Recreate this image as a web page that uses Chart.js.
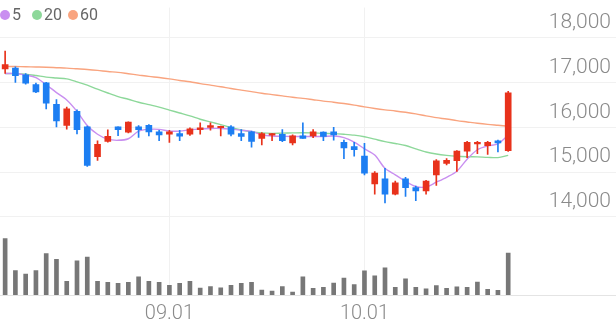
<!DOCTYPE html>
<html>
<head>
  <meta charset="UTF-8">
  <style>
    body { margin: 0; background: #fff; }
    #wrap { position: relative; width: 616px; height: 321px; }
    #legend { position: absolute; top: 0; left: 0; font-family: Roboto, sans-serif; font-size: 16px; color: #666; }
    #legend span.item { position: absolute; top: 5px; white-space: nowrap; line-height: 19px; }
    #legend i { display: inline-block; width: 10px; height: 10px; border-radius: 50%; margin-right: 2px; vertical-align: 0px; }
  </style>
</head>
<body>
  <div id="wrap">
    <canvas id="stock_chart"></canvas>
    <div id="legend"></div>
  </div>

  <script src="https://cdn.jsdelivr.net/npm/chart.js"></script>
  <script>

    // trading days (2023)
    const dates = [
      '08.09','08.10','08.11','08.14','08.16','08.17','08.18','08.21','08.22','08.23',
      '08.24','08.25','08.28','08.29','08.30','08.31','09.01','09.04','09.05','09.06',
      '09.07','09.08','09.11','09.12','09.13','09.14','09.15','09.18','09.19','09.20',
      '09.21','09.22','09.25','09.26','09.27','10.04','10.05','10.06','10.10','10.11',
      '10.12','10.13','10.16','10.17','10.18','10.19','10.20','10.23','10.24','10.25'
    ]

    const openP  = [17300,17320,17170,16955,16990,16515,16045,16355,16010,15345,
                    15685,16010,15890,16010,16045,15900,15845,15860,15845,15950,
                    16000,15990,16010,15860,15900,15750,15825,15845,15650,15810,
                    15810,15895,15900,15665,15570,15360,14740,14850,14510,14850,
                    14655,14580,14940,15195,15255,15470,15630,15590,15700,15480]
    const highP  = [17700,17350,17200,16985,17005,16620,16450,16390,16030,15700,
                    15945,16010,16125,16040,16060,15930,15930,15930,15990,16100,
                    16100,16025,16040,15950,15915,15880,15860,15950,15830,16100,
                    15950,15900,16000,15715,15665,15640,15015,15085,14800,14885,
                    14690,14820,15280,15300,15480,15685,15685,15685,15715,16800]
    const lowP   = [17200,17000,16960,16770,16410,16010,15960,15850,15130,15260,
                    15670,15815,15875,15775,15810,15700,15665,15700,15820,15845,
                    15935,15810,15810,15700,15555,15610,15700,15680,15610,15750,
                    15770,15700,15715,15300,15355,14940,14510,14315,14490,14460,
                    14365,14510,14705,15160,15015,15325,15410,15395,15450,15460]
    const closeP = [17400,17150,16985,16790,16540,16140,16415,15945,15150,15620,
                    15800,15945,16115,15950,15895,15830,15900,15800,15965,15990,
                    16040,16010,15845,15795,15685,15860,15845,15700,15810,15750,
                    15900,15795,15830,15540,15500,14980,14980,14510,14760,14655,
                    14580,14800,15255,15265,15470,15665,15665,15665,15650,16770]

    const ma5  = [17200,17200,17165,17110,16950,16775,16610,16355,16040,15845,
                  15735,15710,15745,15915,15955,15955,15915,15915,15945,15965,
                  15975,15975,15960,15935,15910,15835,15805,15800,15795,15795,
                  15795,15795,15805,15770,15670,15520,15380,15085,14940,14795,
                  14680,14670,14775,14885,15020,15290,15500,15585,15630,15825]
    const ma20 = [17200,17195,17185,17155,17120,17100,17080,17015,16940,16850,
                  16765,16685,16625,16560,16505,16450,16385,16320,16255,16180,
                  16120,16060,15995,15940,15900,15875,15865,15870,15875,15880,
                  15875,15865,15860,15845,15825,15790,15735,15680,15640,15595,
                  15520,15450,15405,15375,15355,15345,15340,15330,15325,15375]
    const ma60 = [17360,17355,17350,17345,17340,17330,17320,17305,17290,17270,
                  17245,17225,17195,17165,17135,17110,17080,17045,17015,16975,
                  16940,16905,16865,16830,16795,16760,16730,16700,16670,16645,
                  16615,16585,16560,16530,16495,16455,16420,16390,16365,16335,
                  16300,16255,16215,16185,16150,16120,16090,16065,16045,16025]

    const volume = [1450,625,538,625,1065,915,350,875,975,350,
                    325,300,325,465,350,325,250,300,350,175,
                    215,183,250,300,325,125,100,218,75,468,
                    168,200,308,433,268,618,493,700,200,418,
                    200,158,243,168,208,200,333,143,118,1075]

    const priceTicks = [14000, 15000, 16000, 17000, 18000]

    const UP = '#e8321b'
    const DOWN = '#1d7ef2'
    const maColors = { '5': '#c98ff0', '20': '#8dd89a', '60': '#f9a47f' }

    // 10 empty slots on the right side, where the price labels sit
    const labels = dates.concat(Array(10).fill(''))

    const candleColor = dates.map((_, i) => closeP[i] >= openP[i] ? UP : DOWN)
    const bodies = dates.map((_, i) => [Math.min(openP[i], closeP[i]), Math.max(openP[i], closeP[i])])
    const wicks = dates.map((_, i) => [lowP[i], highP[i]])

    function maLine(label, data, order){
      return {
        type: 'line', label: label, data: data, yAxisID: 'y', order: order,
        borderColor: maColors[label], borderWidth: 1.4, pointRadius: 0, tension: 0.3, fill: false
      }
    }

    const ctx = document.getElementById('stock_chart')
    const chart = new Chart(ctx, {
      type: 'bar',
      data: {
        labels: labels,
        datasets: [
          maLine('5', ma5, 1),
          maLine('20', ma20, 2),
          maLine('60', ma60, 3),
          { label: 'wick', data: wicks, yAxisID: 'y', order: 0, grouped: false,
            backgroundColor: candleColor, barThickness: 1 },
          { label: 'body', data: bodies, yAxisID: 'y', order: 0, grouped: false,
            backgroundColor: candleColor, barThickness: 6, minBarLength: 1.5 },
          { label: 'volume', data: volume, yAxisID: 'yv', order: 0, grouped: false,
            backgroundColor: '#777777', barThickness: 4 }
        ]
      },
      options: {
        responsive: true,
        maintainAspectRatio: false,
        animation: false,
        layout: { padding: 0 },
        plugins: { legend: { display: false }, tooltip: { enabled: false } },
        scales: {
          x: {
            offset: true,
            grid: { offset: false, color: '#f1f1f1', drawTicks: false },
            border: { display: true, color: '#e4e4e4' },
            afterBuildTicks: (scale) => {
              // only the first trading day of each new month
              scale.ticks = scale.ticks.filter(t => t.value > 0 && t.value < dates.length &&
                dates[t.value].slice(0, 2) !== dates[t.value - 1].slice(0, 2))
            },
            afterFit: (scale) => { scale.height = 26 },
            ticks: {
              autoSkip: false, maxRotation: 0, padding: 7,
              color: '#8a8a8a',
              font: { family: 'Roboto', size: 20, weight: 300 },
              callback: function(value){ return dates[value].slice(0, 2) + '.01' }
            }
          },
          y: {
            position: 'right',
            min: 12260, max: 18670,
            grid: { color: '#f1f1f1', drawTicks: false },
            border: { display: false },
            afterBuildTicks: (scale) => { scale.ticks = priceTicks.map(v => ({ value: v })) },
            afterFit: (scale) => { scale.width = 0 },
            ticks: {
              mirror: true, padding: -5, labelOffset: -15,
              color: '#8a8a8a',
              font: { family: 'Roboto', size: 21, weight: 300 },
              callback: (v) => v.toLocaleString('en-US')
            }
          },
          yv: {
            display: false,
            min: 0, max: 7375
          }
        }
      }
    })

    // legend for the moving averages
    const legendEl = document.getElementById('legend')
    const legendLeft = { '5': 0, '20': 32, '60': 68 }
    Object.keys(maColors).forEach(k => {
      const item = document.createElement('span')
      item.className = 'item'
      item.style.left = legendLeft[k] + 'px'
      item.innerHTML = `<i style="background:${maColors[k]}"></i>${k}`
      legendEl.appendChild(item)
    })

  </script>
</body>
</html>
